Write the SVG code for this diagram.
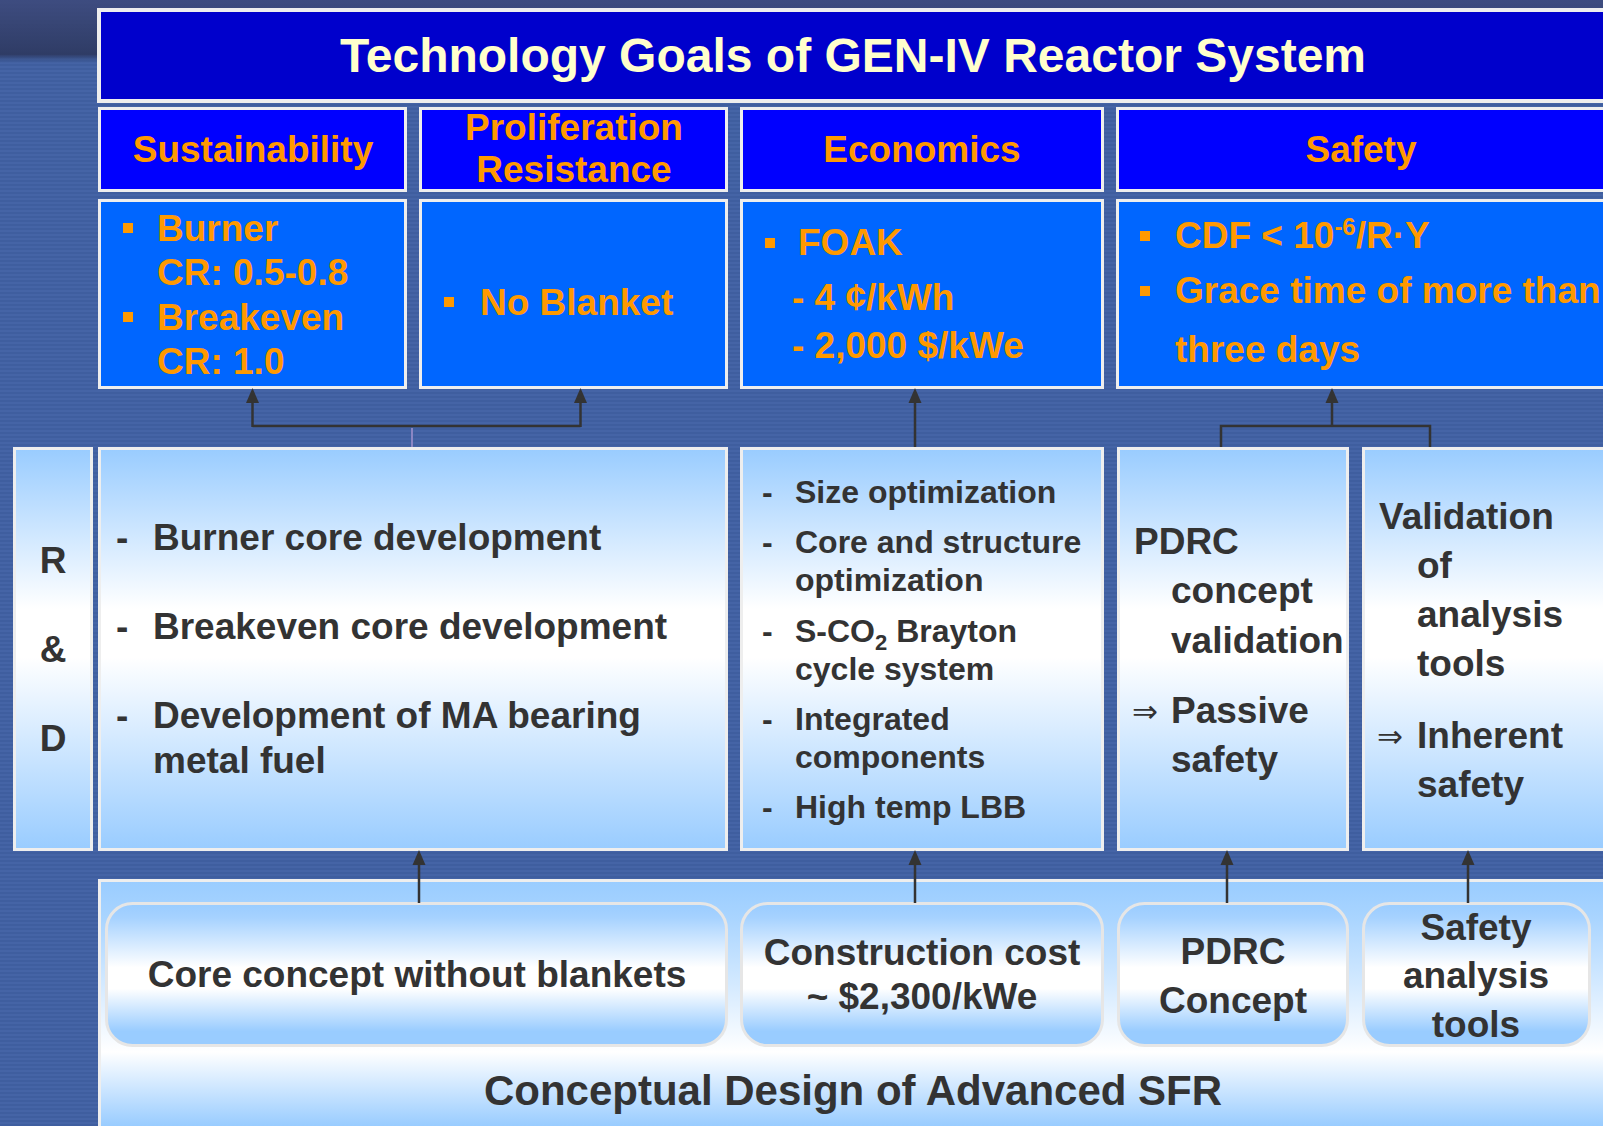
<svg xmlns="http://www.w3.org/2000/svg" width="1603" height="1126" viewBox="0 0 1603 1126">
  <defs>
    <pattern id="stripes" x="0" y="0" width="8" height="4" patternUnits="userSpaceOnUse">
      <rect width="8" height="4" fill="#3f5e9f"/>
      <rect y="2" width="8" height="2" fill="#4564a6"/>
    </pattern>
    <linearGradient id="topShade" x1="0" y1="0" x2="0" y2="1">
      <stop offset="0" stop-color="#3d4a7c" stop-opacity="0.9"/>
      <stop offset="0.85" stop-color="#2e3a62" stop-opacity="0.95"/>
      <stop offset="1" stop-color="#3a5590" stop-opacity="0"/>
    </linearGradient>
    <linearGradient id="paleV" x1="0" y1="0" x2="0" y2="1">
      <stop offset="0" stop-color="#99ccff"/>
      <stop offset="0.4" stop-color="#ffffff"/>
      <stop offset="0.52" stop-color="#ffffff"/>
      <stop offset="1" stop-color="#99ccff"/>
    </linearGradient>
    <linearGradient id="pill" x1="0" y1="0" x2="0" y2="1">
      <stop offset="0" stop-color="#99ccff"/>
      <stop offset="0.1" stop-color="#a6d2ff"/>
      <stop offset="0.45" stop-color="#ffffff"/>
      <stop offset="0.6" stop-color="#ffffff"/>
      <stop offset="0.9" stop-color="#99ccff"/>
      <stop offset="1" stop-color="#99ccff"/>
    </linearGradient>
    <linearGradient id="panel" gradientUnits="userSpaceOnUse" x1="0" y1="879" x2="0" y2="1126">
      <stop offset="0" stop-color="#99ccff"/>
      <stop offset="0.15" stop-color="#a8d4ff"/>
      <stop offset="0.7" stop-color="#ffffff"/>
      <stop offset="1" stop-color="#99ccff"/>
    </linearGradient>
    <marker id="arrow" markerUnits="userSpaceOnUse" markerWidth="16" markerHeight="14" refX="7" refY="7" orient="auto">
      <path d="M0,0.5 L15,7 L0,13.5 z" fill="#333333"/>
    </marker>
    <style>
      text { font-family: "Liberation Sans", Arial, sans-serif; font-weight: bold; }
      .title { font-size: 48px; fill: #ffffcc; text-anchor: middle; }
      .head { font-size: 37px; fill: #ff9900; text-anchor: middle; }
      .goal { font-size: 37px; fill: #ff9900; }
      .dark { font-size: 37px; fill: #333333; }
      .mid { text-anchor: middle; }
      .small { font-size: 32px; }
      .footer { font-size: 42px; fill: #333333; text-anchor: middle; }
      .imp { font-family: "DejaVu Sans", sans-serif; font-weight: normal; font-size: 31px; fill: #333333; }
      .bullet { fill: #ff9900; }
      .frame { stroke: #eeeeee; stroke-width: 3; }
      .navy { fill: #0000cc; }
      .blue { fill: #0000ff; }
      .sky { fill: #0066ff; }
      .pale { fill: url(#paleV); }
      .pillbox { fill: url(#pill); stroke: #e6e6e6; stroke-width: 3; }
      .link { stroke: #333333; stroke-width: 2.5; fill: none; }
      .stub { stroke: #8a86c4; stroke-width: 2; fill: none; }
    </style>
  </defs>

  <!-- striped backdrop with the darker band along the top -->
  <rect width="1603" height="1126" fill="url(#stripes)"/>
  <rect width="1603" height="64" fill="url(#topShade)"/>

  <!-- title bar -->
  <g id="title">
    <rect x="99" y="10" width="1510" height="91" class="navy" stroke="#eeeeee" stroke-width="4"/>
    <text x="853" y="72" class="title">Technology Goals of GEN-IV Reactor System</text>
  </g>

  <!-- goal headers -->
  <g id="head-sustainability">
    <rect x="99.5" y="108.5" width="306" height="82" class="blue frame"/>
    <text x="253" y="162" class="head">Sustainability</text>
  </g>
  <g id="head-proliferation">
    <rect x="420.5" y="108.5" width="306" height="82" class="blue frame"/>
    <text x="574" y="140" class="head">Proliferation</text>
    <text x="574" y="182" class="head">Resistance</text>
  </g>
  <g id="head-economics">
    <rect x="741.5" y="108.5" width="361" height="82" class="blue frame"/>
    <text x="922" y="162" class="head">Economics</text>
  </g>
  <g id="head-safety">
    <rect x="1117.5" y="108.5" width="500" height="82" class="blue frame"/>
    <text x="1361" y="162" class="head">Safety</text>
  </g>

  <!-- goal targets -->
  <g id="goal-sustainability">
    <rect x="99.5" y="200.5" width="306" height="187" class="sky frame"/>
    <rect x="123" y="223" width="10" height="10" class="bullet"/>
    <text x="157" y="241" class="goal">Burner</text>
    <text x="157" y="285" class="goal">CR: 0.5-0.8</text>
    <rect x="123" y="312" width="10" height="10" class="bullet"/>
    <text x="157" y="330" class="goal">Breakeven</text>
    <text x="157" y="374" class="goal">CR: 1.0</text>
  </g>
  <g id="goal-proliferation">
    <rect x="420.5" y="200.5" width="306" height="187" class="sky frame"/>
    <rect x="444" y="297" width="10" height="10" class="bullet"/>
    <text x="480" y="315" class="goal">No Blanket</text>
  </g>
  <g id="goal-economics">
    <rect x="741.5" y="200.5" width="361" height="187" class="sky frame"/>
    <rect x="765" y="238" width="10" height="10" class="bullet"/>
    <text x="798" y="255" class="goal">FOAK</text>
    <text x="792" y="310" class="goal">- 4 ¢/kWh</text>
    <text x="792" y="358" class="goal">- 2,000 $/kWe</text>
  </g>
  <g id="goal-safety">
    <rect x="1117.5" y="200.5" width="500" height="187" class="sky frame"/>
    <rect x="1140" y="231" width="10" height="10" class="bullet"/>
    <text x="1175" y="248" class="goal">CDF &lt; 10<tspan font-size="24" baseline-shift="13">-6</tspan>/R·Y</text>
    <rect x="1140" y="286" width="10" height="10" class="bullet"/>
    <text x="1175" y="303" class="goal">Grace time of more than</text>
    <text x="1175" y="362" class="goal">three days</text>
  </g>

  <!-- R&D row -->
  <g id="rd-label">
    <rect x="14.5" y="448.5" width="77" height="401" class="pale frame"/>
    <text x="53" y="573" class="dark mid">R</text>
    <text x="53" y="662" class="dark mid">&amp;</text>
    <text x="53" y="751" class="dark mid">D</text>
  </g>
  <g id="rd-core">
    <rect x="99.5" y="448.5" width="627" height="401" class="pale frame"/>
    <text x="116" y="550" class="dark">-</text>
    <text x="153" y="550" class="dark">Burner core development</text>
    <text x="116" y="639" class="dark">-</text>
    <text x="153" y="639" class="dark">Breakeven core development</text>
    <text x="116" y="728" class="dark">-</text>
    <text x="153" y="728" class="dark">Development of MA bearing</text>
    <text x="153" y="773" class="dark">metal fuel</text>
  </g>
  <g id="rd-plant">
    <rect x="741.5" y="448.5" width="361" height="401" class="pale frame"/>
    <text x="762" y="503" class="dark small">-</text>
    <text x="795" y="503" class="dark small">Size optimization</text>
    <text x="762" y="553" class="dark small">-</text>
    <text x="795" y="553" class="dark small">Core and structure</text>
    <text x="795" y="591" class="dark small">optimization</text>
    <text x="762" y="642" class="dark small">-</text>
    <text x="795" y="642" class="dark small">S-CO<tspan font-size="22" baseline-shift="-8">2</tspan> Brayton</text>
    <text x="795" y="680" class="dark small">cycle system</text>
    <text x="762" y="730" class="dark small">-</text>
    <text x="795" y="730" class="dark small">Integrated</text>
    <text x="795" y="768" class="dark small">components</text>
    <text x="762" y="818" class="dark small">-</text>
    <text x="795" y="818" class="dark small">High temp LBB</text>
  </g>
  <g id="rd-pdrc">
    <rect x="1118.5" y="448.5" width="229" height="401" class="pale frame"/>
    <text x="1134" y="554" class="dark">PDRC</text>
    <text x="1171" y="603" class="dark">concept</text>
    <text x="1171" y="653" class="dark">validation</text>
    <text x="1132" y="722" class="imp">⇒</text>
    <text x="1171" y="723" class="dark">Passive</text>
    <text x="1171" y="772" class="dark">safety</text>
  </g>
  <g id="rd-validation">
    <rect x="1363.5" y="448.5" width="260" height="401" class="pale frame"/>
    <text x="1379" y="529" class="dark">Validation</text>
    <text x="1417" y="578" class="dark">of</text>
    <text x="1417" y="627" class="dark">analysis</text>
    <text x="1417" y="676" class="dark">tools</text>
    <text x="1377" y="747" class="imp">⇒</text>
    <text x="1417" y="748" class="dark">Inherent</text>
    <text x="1417" y="797" class="dark">safety</text>
  </g>

  <!-- conceptual design panel -->
  <g id="design-panel">
    <rect x="99.5" y="880.5" width="1520" height="260" fill="url(#panel)" stroke="#eeeeee" stroke-width="3"/>
    <text x="853" y="1105" class="footer">Conceptual Design of Advanced SFR</text>
  </g>
  <g id="design-core">
    <rect x="106.5" y="903.5" width="620" height="142" rx="26" ry="26" class="pillbox"/>
    <text x="417" y="987" class="dark mid">Core concept without blankets</text>
  </g>
  <g id="design-cost">
    <rect x="741.5" y="903.5" width="361" height="142" rx="26" ry="26" class="pillbox"/>
    <text x="922" y="965" class="dark mid">Construction cost</text>
    <text x="922" y="1009" class="dark mid">~ $2,300/kWe</text>
  </g>
  <g id="design-pdrc">
    <rect x="1118.5" y="903.5" width="229" height="142" rx="26" ry="26" class="pillbox"/>
    <text x="1233" y="964" class="dark mid">PDRC</text>
    <text x="1233" y="1013" class="dark mid">Concept</text>
  </g>
  <g id="design-tools">
    <rect x="1363.5" y="903.5" width="226" height="142" rx="26" ry="26" class="pillbox"/>
    <text x="1476" y="940" class="dark mid">Safety</text>
    <text x="1476" y="988" class="dark mid">analysis</text>
    <text x="1476" y="1037" class="dark mid">tools</text>
  </g>

  <!-- connectors -->
  <g id="connectors">
    <polyline points="252.5,426 580.5,426" class="link"/>
    <line x1="252.5" y1="427" x2="252.5" y2="396" class="link" marker-end="url(#arrow)"/>
    <line x1="580.5" y1="427" x2="580.5" y2="396" class="link" marker-end="url(#arrow)"/>
    <line x1="412" y1="428" x2="412" y2="447" class="stub"/>

    <line x1="915" y1="447" x2="915" y2="396" class="link" marker-end="url(#arrow)"/>

    <polyline points="1221,447 1221,426 1430,426 1430,447" class="link"/>
    <line x1="1332" y1="426" x2="1332" y2="396" class="link" marker-end="url(#arrow)"/>

    <line x1="419" y1="903" x2="419" y2="858" class="link" marker-end="url(#arrow)"/>
    <line x1="915" y1="903" x2="915" y2="858" class="link" marker-end="url(#arrow)"/>
    <line x1="1227" y1="903" x2="1227" y2="858" class="link" marker-end="url(#arrow)"/>
    <line x1="1468" y1="903" x2="1468" y2="858" class="link" marker-end="url(#arrow)"/>
  </g>
</svg>
